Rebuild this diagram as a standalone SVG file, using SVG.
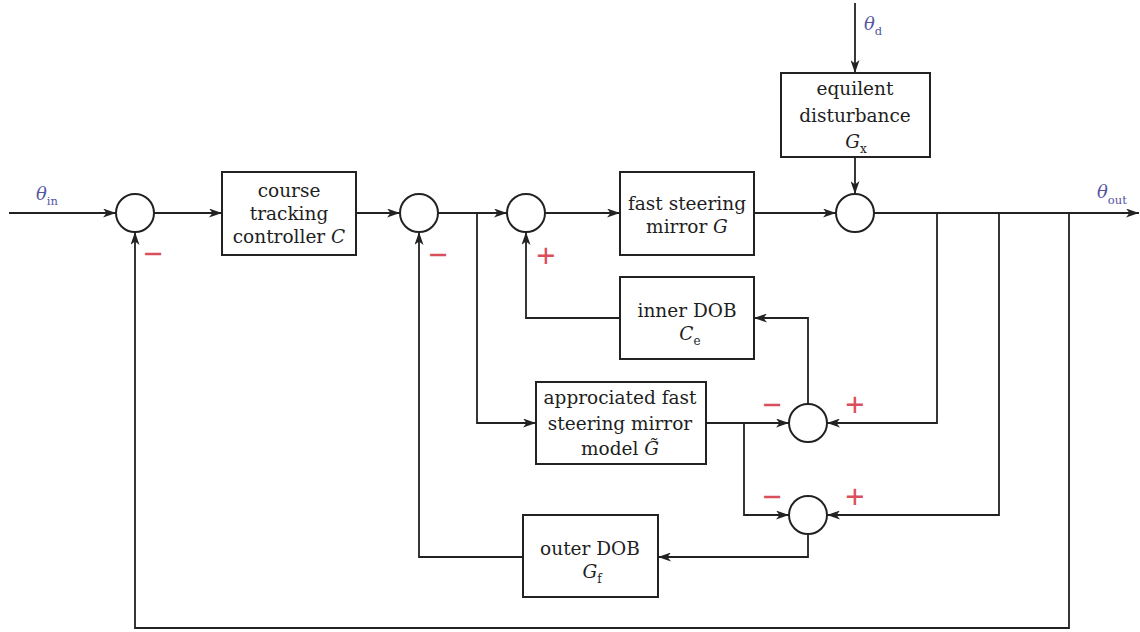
<svg xmlns="http://www.w3.org/2000/svg" width="1140" height="632" viewBox="0 0 1140 632">
<style>
.box{fill:#fff;stroke:#222;stroke-width:2}
.sum{fill:#fff;stroke:#222;stroke-width:2}
.ln{fill:none;stroke:#222;stroke-width:1.8}
.t{font-family:"DejaVu Serif","Liberation Serif",serif;font-size:18.5px;fill:#1e1e1e;text-anchor:middle}
.it{font-style:italic}
.sub{font-size:12px;font-style:normal}
.th{font-family:"DejaVu Serif","Liberation Serif",serif;font-size:18px;fill:#55559f;font-style:italic}
.ths{font-size:11.5px;font-style:normal}
.sg{font-family:"Liberation Sans",sans-serif;font-size:33px;fill:#d9505c;text-anchor:middle}
</style>
<defs>
<marker id="ar" viewBox="0 0 13 9" markerWidth="13" markerHeight="9" refX="13" refY="4.5" orient="auto" markerUnits="userSpaceOnUse">
<path d="M0,0 L13,4.5 L0,9 L3.5,4.5 Z" fill="#222"/>
</marker>
</defs>
<rect width="1140" height="632" fill="#fff"/>

<g id="connectors">
<path class="ln" d="M9,213 H116" marker-end="url(#ar)"/>
<path class="ln" d="M154,213 H222" marker-end="url(#ar)"/>
<path class="ln" d="M356,213 H400" marker-end="url(#ar)"/>
<path class="ln" d="M438,213 H507" marker-end="url(#ar)"/>
<path class="ln" d="M477,213 V423 H536" marker-end="url(#ar)"/>
<path class="ln" d="M545,213 H620" marker-end="url(#ar)"/>
<path class="ln" d="M754,213 H836" marker-end="url(#ar)"/>
<path class="ln" d="M874,213 H1139" marker-end="url(#ar)"/>
<path class="ln" d="M855,3 V73" marker-end="url(#ar)"/>
<path class="ln" d="M855,157 V194" marker-end="url(#ar)"/>
<path class="ln" d="M937,213 V423 H827" marker-end="url(#ar)"/>
<path class="ln" d="M999,213 V515 H827" marker-end="url(#ar)"/>
<path class="ln" d="M1069,213 V628 H135 V232" marker-end="url(#ar)"/>
<path class="ln" d="M706,423 H789" marker-end="url(#ar)"/>
<path class="ln" d="M744,423 V515 H789" marker-end="url(#ar)"/>
<path class="ln" d="M808,404 V318 H754" marker-end="url(#ar)"/>
<path class="ln" d="M620,318 H526 V232" marker-end="url(#ar)"/>
<path class="ln" d="M808,534 V557 H658" marker-end="url(#ar)"/>
<path class="ln" d="M523,557 H419 V232" marker-end="url(#ar)"/>
</g>

<g id="sum1"><circle class="sum" cx="135" cy="213" r="19"/><text class="sg" x="153" y="265">−</text></g>
<g id="sum2"><circle class="sum" cx="419" cy="213" r="19"/><text class="sg" x="438" y="266">−</text></g>
<g id="sum3"><circle class="sum" cx="526" cy="213" r="19"/><text class="sg" x="546" y="267">+</text></g>
<g id="sum4"><circle class="sum" cx="855" cy="213" r="19"/></g>
<g id="sum5"><circle class="sum" cx="808" cy="423" r="19"/><text class="sg" x="772" y="416">−</text><text class="sg" x="855" y="416">+</text></g>
<g id="sum6"><circle class="sum" cx="808" cy="515" r="19"/><text class="sg" x="772" y="508">−</text><text class="sg" x="855" y="508">+</text></g>

<g id="theta-in"><text class="th" x="36" y="200">θ<tspan class="ths" dy="5">in</tspan></text></g>
<g id="theta-d"><text class="th" x="864" y="30">θ<tspan class="ths" dy="5">d</tspan></text></g>
<g id="theta-out"><text class="th" x="1097" y="198">θ<tspan class="ths" dy="6">out</tspan></text></g>

<g id="controller">
<rect class="box" x="222" y="172" width="134" height="83"/>
<text class="t" x="289" y="197">course</text>
<text class="t" x="289" y="220">tracking</text>
<text class="t" x="289" y="243">controller <tspan class="it">C</tspan></text>
</g>

<g id="fsm">
<rect class="box" x="620" y="172" width="134" height="83"/>
<text class="t" x="687" y="210">fast steering</text>
<text class="t" x="687" y="233">mirror <tspan class="it">G</tspan></text>
</g>

<g id="disturbance">
<rect class="box" x="781" y="73" width="149" height="84"/>
<text class="t" x="855" y="95">equilent</text>
<text class="t" x="855" y="122">disturbance</text>
<text class="t" x="856" y="148"><tspan class="it">G</tspan><tspan class="sub" dy="5">x</tspan></text>
</g>

<g id="inner-dob">
<rect class="box" x="620" y="277" width="134" height="82"/>
<text class="t" x="687" y="317">inner DOB</text>
<text class="t" x="690" y="340"><tspan class="it">C</tspan><tspan class="sub" dy="5">e</tspan></text>
</g>

<g id="model">
<rect class="box" x="536" y="382" width="170" height="82"/>
<text class="t" x="620" y="404">approciated fast</text>
<text class="t" x="620" y="430">steering mirror</text>
<text class="t" x="620" y="455">model <tspan class="it">G̃</tspan></text>
</g>

<g id="outer-dob">
<rect class="box" x="523" y="515" width="135" height="82"/>
<text class="t" x="590" y="555">outer DOB</text>
<text class="t" x="592" y="578"><tspan class="it">G</tspan><tspan class="sub" dy="5">f</tspan></text>
</g>
</svg>
